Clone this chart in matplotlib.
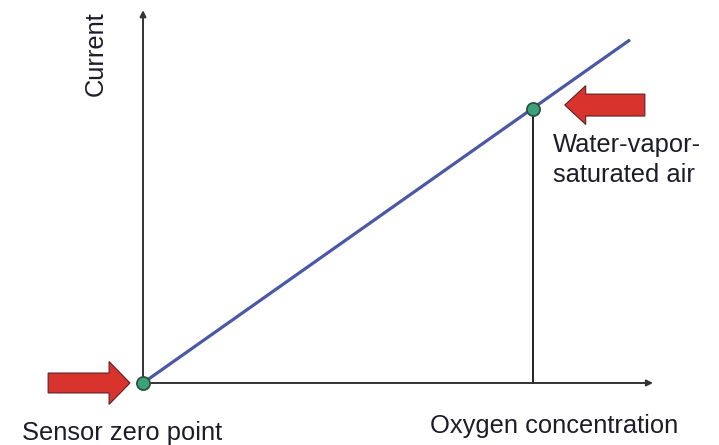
import matplotlib.pyplot as plt
from matplotlib.patches import FancyArrow

plt.rcParams['font.family'] = ['Liberation Sans', 'DejaVu Sans']

# Chart values (arbitrary units)
oxygen = [0, 95.5]
current = [0, 67.3]
point_x = [0, 76.5]
point_y = [0, 53.8]
point_labels = ['Sensor zero point', 'Water-vapor-\nsaturated air']
x_label = 'Oxygen concentration'
y_label = 'Current'
x_axis_end = 100
y_axis_end = 73.1

fig = plt.figure(figsize=(7.19, 4.45), dpi=100)
ax = fig.add_axes([0, 0, 1, 1])
ax.set_xlim(-28.04, 112.94)
ax.set_ylim(-12.16, 75.10)
ax.axis('off')

axis_color = '#333333'
# axes with arrow heads
ax.annotate('', xy=(x_axis_end, 0), xytext=(0, 0),
            arrowprops=dict(arrowstyle='-|>', color=axis_color, lw=1.4,
                            mutation_scale=9, shrinkA=0, shrinkB=0))
ax.annotate('', xy=(0, y_axis_end), xytext=(0, 0),
            arrowprops=dict(arrowstyle='-|>', color=axis_color, lw=1.4,
                            mutation_scale=9, shrinkA=0, shrinkB=0))

# drop line from the saturated-air point
ax.plot([point_x[1], point_x[1]], [0, point_y[1]], color='#222222', lw=1.4)

# calibration line
ax.plot(oxygen, current, color='#4a58a6', lw=2.3, solid_capstyle='butt')

# points
ax.plot(point_x, point_y, 'o', ms=9.5, color='#3aa277', mec='#2b4b3c', mew=1.2, zorder=5)

# red block arrows pointing at the points
red = '#d8332c'
ax.add_patch(FancyArrow(point_x[0] - 18.6, point_y[0], 16.05, 0, width=3.9,
                        head_width=8.4, head_length=4.1, length_includes_head=True,
                        fc=red, ec='#5a2020', lw=0.8, zorder=4))
ax.add_patch(FancyArrow(point_x[1] + 21.9, point_y[1] + 0.7, -15.7, 0, width=4.3,
                        head_width=7.6, head_length=4.1, length_includes_head=True,
                        fc=red, ec='#5a2020', lw=0.8, zorder=4))

fs = 18.4
txt = '#1c1c2a'
ax.text(-23.7, -11.2, point_labels[0], fontsize=fs, color=txt, ha='left', va='baseline')
for i, line in enumerate(point_labels[1].split('\n')):
    ax.text(80.4, 45.3 - i * 5.9, line, fontsize=fs, color=txt, ha='left', va='baseline')
ax.text(56.3, -9.8, x_label, fontsize=fs, color=txt, ha='left', va='baseline')
ax.text(-7.84, 64.5, y_label, fontsize=fs, color=txt, rotation=90,
        rotation_mode='anchor', ha='center', va='baseline')

fig.savefig('out.png', dpi=100, facecolor='white')
